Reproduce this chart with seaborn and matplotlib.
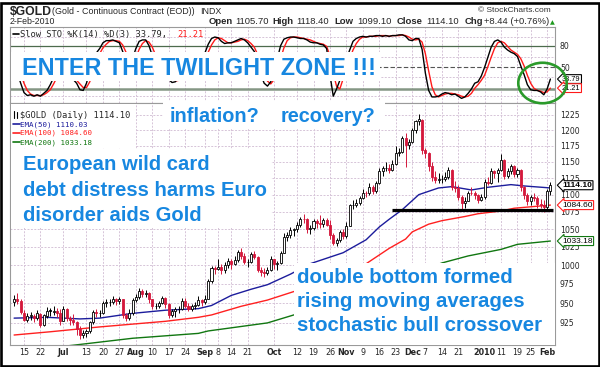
import numpy as np
import matplotlib
matplotlib.use("Agg")
import matplotlib.pyplot as plt
import matplotlib.transforms as mtransforms
from matplotlib.patches import Rectangle, Ellipse
from matplotlib.lines import Line2D
from matplotlib.ticker import NullLocator
import seaborn as sns

# ---------------- data ----------------
opens = [951, 955, 953, 938, 929, 934, 934, 931, 936, 923,
         934, 940, 939, 940, 938, 928, 942, 931, 929, 926,
         918, 910, 912, 915, 926, 939, 937, 937, 950, 951,
         952, 955, 953, 955, 935, 931, 937, 954, 958, 966,
         962, 963, 955, 946, 947, 950, 957, 949, 935, 940,
         942, 942, 953, 946, 943, 947, 948, 954, 952, 956,
         979, 996, 995, 998, 994, 1000, 1006, 1001, 1007, 1018,
         1012, 1004, 1005, 1015, 1011, 994, 991, 990, 994, 1008,
         1001, 1003, 1017, 1039, 1041, 1049, 1050, 1056, 1065, 1064,
         1050, 1051, 1061, 1058, 1057, 1063, 1056, 1041, 1030, 1034,
         1046, 1040, 1055, 1084, 1085, 1088, 1095, 1103, 1102, 1111,
         1105, 1118, 1136, 1140, 1141, 1138, 1146, 1164, 1165, 1188,
         1176, 1181, 1201, 1215, 1216, 1169, 1163, 1143, 1126, 1122,
         1123, 1124, 1127, 1137, 1112, 1110, 1097, 1088, 1091, 1103,
         1102, 1099, 1092, 1096, 1119, 1118, 1135, 1132, 1137, 1152,
         1128, 1136, 1144, 1131, 1137, 1111, 1099, 1090, 1097, 1095,
         1086, 1084, 1082, 1105.7]
highs = [961, 963, 955, 941, 938, 939, 936, 941, 937, 936,
         945, 944, 946, 944, 942, 947, 944, 934, 936, 928,
         921, 916, 918, 928, 941, 942, 941, 953, 956, 956,
         959, 957, 958, 956, 937, 942, 957, 962, 970, 968,
         967, 964, 956, 950, 953, 959, 958, 950, 942, 945,
         946, 957, 957, 950, 949, 951, 959, 956, 960, 981,
         999, 999, 1008, 1001, 1004, 1010, 1008, 1012, 1021, 1024,
         1016, 1009, 1018, 1019, 1013, 997, 996, 997, 1012, 1009,
         1006, 1020, 1045, 1046, 1053, 1052, 1060, 1067, 1071, 1066,
         1056, 1064, 1064, 1070, 1066, 1066, 1063, 1044, 1037, 1049,
         1050, 1060, 1086, 1092, 1094, 1098, 1108, 1106, 1118, 1115,
         1120, 1140, 1143, 1150, 1147, 1152, 1175, 1171, 1190, 1196,
         1186, 1204, 1217, 1227, 1218, 1172, 1166, 1149, 1135, 1133,
         1130, 1134, 1142, 1139, 1120, 1114, 1099, 1096, 1106, 1112,
         1106, 1101, 1101, 1123, 1126, 1140, 1137, 1140, 1162, 1155,
         1140, 1147, 1145, 1140, 1139, 1113, 1103, 1099, 1103, 1098,
         1094, 1092, 1108, 1118.4]
lows = [947, 949, 936, 927, 926, 929, 926, 929, 920, 921,
        931, 934, 935, 933, 922, 927, 928, 922, 923, 910,
        905, 906, 907, 913, 924, 932, 932, 936, 945, 947,
        949, 948, 949, 931, 928, 929, 935, 952, 956, 958,
        958, 950, 943, 942, 944, 949, 944, 931, 933, 932,
        938, 941, 944, 940, 940, 942, 946, 947, 949, 955,
        976, 988, 993, 988, 990, 996, 995, 1000, 1005, 1009,
        1001, 998, 1003, 1008, 991, 985, 984, 987, 992, 995,
        994, 1001, 1016, 1033, 1038, 1040, 1046, 1053, 1058, 1045,
        1043, 1049, 1051, 1052, 1053, 1054, 1036, 1027, 1026, 1032,
        1036, 1038, 1054, 1079, 1082, 1085, 1094, 1096, 1100, 1101,
        1103, 1116, 1128, 1136, 1133, 1136, 1145, 1159, 1163, 1142,
        1170, 1179, 1195, 1208, 1162, 1156, 1135, 1120, 1118, 1117,
        1118, 1120, 1124, 1107, 1104, 1092, 1076, 1081, 1090, 1099,
        1094, 1088, 1090, 1094, 1114, 1116, 1125, 1119, 1136, 1123,
        1125, 1131, 1127, 1127, 1106, 1094, 1084, 1085, 1090, 1080,
        1080, 1074, 1079, 1099.1]
closes = [955, 953, 939, 929, 934, 935, 931, 937, 922, 935,
          940, 940, 940, 938, 927, 943, 931, 929, 926, 918,
          910, 912, 915, 926, 939, 937, 937, 950, 952, 952,
          955, 953, 955, 935, 931, 937, 954, 958, 966, 962,
          963, 955, 946, 947, 950, 957, 949, 935, 940, 942,
          942, 953, 946, 943, 947, 948, 954, 952, 956, 979,
          996, 995, 998, 994, 1000, 1006, 1001, 1007, 1018, 1012,
          1004, 1005, 1015, 1011, 994, 991, 990, 994, 1008, 1001,
          1003, 1017, 1039, 1041, 1049, 1050, 1056, 1065, 1064, 1050,
          1051, 1061, 1058, 1057, 1063, 1056, 1041, 1030, 1034, 1046,
          1040, 1055, 1084, 1085, 1088, 1095, 1103, 1102, 1111, 1105,
          1118, 1136, 1140, 1141, 1138, 1146, 1164, 1165, 1188, 1176,
          1181, 1201, 1215, 1218, 1169, 1163, 1143, 1126, 1122, 1123,
          1124, 1127, 1137, 1112, 1110, 1097, 1088, 1091, 1103, 1102,
          1099, 1092, 1096, 1119, 1118, 1135, 1132, 1137, 1152, 1128,
          1136, 1144, 1131, 1137, 1111, 1099, 1090, 1097, 1095, 1086,
          1084, 1082, 1106, 1114.1]

stoch_k = [55, 42, 28, 15, 11, 12, 10, 12, 10, 14,
           18, 26, 36, 45, 42, 40, 38, 36, 33, 28,
           19, 18, 28, 45, 62, 70, 76, 84, 87, 87,
           88, 86, 84, 72, 58, 50, 62, 76, 86, 88,
           88, 80, 66, 55, 50, 48, 42, 33, 29, 30,
           36, 45, 50, 46, 44, 45, 52, 62, 70, 82,
           90, 92, 91, 86, 83, 84, 84, 86, 88, 90,
           88, 84, 78, 72, 55, 40, 28, 24, 30, 45,
           62, 80, 89, 91, 92, 92, 91, 90, 90, 88,
           85, 84, 84, 82, 81, 76, 40, 10, 20, 32,
           50, 62, 74, 86, 90, 92, 93, 92, 93, 93,
           94, 94, 93, 94, 93, 94, 94, 95, 95, 93,
           88, 87, 90, 90, 75, 42, 18, 9, 9, 10,
           13, 15, 14, 12, 13, 10, 7, 9, 14, 20,
           28, 30, 38, 50, 64, 78, 86, 88, 85, 78,
           74, 71, 69, 65, 52, 40, 26, 19, 18, 18,
           16, 12, 20, 33.79]
stoch_d = [62, 52, 42, 28, 18, 13, 11, 11, 11, 12,
           15, 19, 27, 36, 41, 42, 40, 38, 36, 32,
           27, 22, 22, 30, 45, 59, 69, 77, 82, 86,
           87, 87, 86, 81, 71, 60, 57, 63, 75, 83,
           87, 85, 78, 67, 57, 51, 47, 41, 35, 31,
           32, 37, 44, 47, 47, 45, 47, 53, 61, 71,
           81, 88, 91, 90, 87, 84, 84, 85, 86, 88,
           89, 87, 83, 78, 68, 56, 41, 31, 27, 33,
           46, 62, 77, 87, 91, 92, 92, 91, 90, 89,
           88, 86, 84, 83, 82, 79, 66, 42, 24, 20,
           34, 48, 62, 74, 83, 89, 92, 92, 93, 93,
           93, 94, 94, 94, 93, 94, 94, 94, 95, 94,
           92, 89, 88, 89, 85, 69, 45, 23, 12, 9,
           11, 13, 14, 14, 13, 12, 10, 9, 10, 14,
           21, 26, 32, 39, 51, 64, 76, 84, 86, 84,
           79, 74, 71, 68, 62, 52, 39, 28, 21, 18,
           17, 15, 16, 21.21]

ema50_idx = [0, 10, 20, 26, 36, 46, 56, 60, 66, 72, 77, 84, 90, 100, 107,
             111, 114, 118, 123, 129, 133, 139, 144, 151, 155, 163]
ema50_val = [931, 932, 930, 931, 937, 941, 943, 947, 960, 968, 974, 988, 1002,
             1017, 1035, 1053, 1064, 1078, 1100, 1110, 1112, 1107, 1111, 1115,
             1113, 1110.03]
ema100_idx = [0, 11, 26, 46, 56, 60, 69, 77, 85, 96, 107, 114, 119, 121, 126,
              130, 137, 141, 148, 152, 163]
ema100_val = [910, 914, 920, 927, 932, 935, 946, 954, 965, 980, 1002, 1023, 1036,
              1046, 1057, 1062, 1068, 1072, 1076, 1080, 1084.6]
ema200_idx = [0, 10, 19, 36, 56, 59, 77, 85, 100, 115, 130, 138, 148, 153, 163]
ema200_val = [890, 894, 898, 906, 912, 915, 925, 935, 955, 978, 1003, 1012.6,
              1021.6, 1028.6, 1033.18]

tick_idx = [3, 8, 15, 22, 27, 32, 37, 42, 47, 52, 58, 62, 66, 71, 79, 86, 91,
            96, 101, 106, 111, 116, 121, 125, 130, 135, 143, 148, 153, 157, 162]
tick_labels = ['15', '22', 'Jul', '13', '20', '27', 'Aug', '10', '17', '24',
               'Sep', '8', '14', '21', 'Oct', '12', '19', '26', 'Nov', '9', '16',
               '23', 'Dec', '7', '14', '21', '2010', '11', '19', '25', 'Feb']
month_labels = ['Jul', 'Aug', 'Sep', 'Oct', 'Nov', 'Dec', '2010', 'Feb']
price_ticks = [925, 950, 975, 1000, 1025, 1050, 1075, 1100, 1125, 1150, 1175, 1200, 1225]
stoch_levels = [20, 50, 80]
stoch_grid = [10, 37, 65, 92]

support_level = [1077.5]
support_span = [114.9, 163.8]

tags_price = [(1114.10, '1114.10', 'black', True),
              (1084.60, '1084.60', '#ff2020', False),
              (1033.18, '1033.18', '#117711', False)]
tags_stoch = [(33.79, '33.79', 'black'), (21.21, '21.21', '#ff1a1a')]

# ---------------- figure ----------------
sns.set_style("white")
plt.rcParams['font.family'] = ['DejaVu Sans']

W, H = 600.0, 367.0
fig = plt.figure(figsize=(6.0, 3.67), dpi=100)
fig.patch.set_facecolor('white')


def fx(px):
    return px / W


def fy(py):
    return 1.0 - py / H


L, R = 10, 555
ax_s = fig.add_axes([fx(L), fy(103), (R - L) / W, (103 - 27) / H])
ax_p = fig.add_axes([fx(L), fy(345), (R - L) / W, (345 - 103) / H])

GRID = '#d6c4d8'
SPINE = '#9a9a9a'
RED_C = '#d4183c'
BLUE_T = '#1787e0'
ARIAL = 'Liberation Sans'

for ax in (ax_s, ax_p):
    ax.set_facecolor('white')
    for sp in ax.spines.values():
        sp.set_color(SPINE)
        sp.set_linewidth(0.8)
    ax.set_xlim(-1.25, 164.4)
    ax.set_xticks(tick_idx)
    for t in tick_idx:
        ax.axvline(t, color=GRID, lw=0.7, ls=(0, (2, 1.5)), zorder=0)

# ---- price panel ----
ax_p.set_yscale('log')
ax_p.set_ylim(897.8, 1245)
ax_p.set_yticks(price_ticks)
ax_p.set_yticklabels([str(v) for v in price_ticks])
ax_p.yaxis.set_minor_locator(NullLocator())
ax_p.yaxis.tick_right()
ax_p.tick_params(axis='y', length=0, pad=3.5, labelsize=5.6)
ax_p.set_xticklabels(tick_labels)
ax_p.tick_params(axis='x', length=0, pad=2.2, labelsize=5.8)
for lab in ax_p.get_xticklabels():
    if lab.get_text() in month_labels:
        lab.set_fontweight('bold')
for v in price_ticks:
    ax_p.axhline(v, color=GRID, lw=0.7, ls=(0, (2, 1.5)), zorder=0)

o = np.array(opens, float)
h = np.array(highs, float)
l = np.array(lows, float)
c = np.array(closes, float)
idx = np.arange(len(c))
prev = np.concatenate([[o[0]], c[:-1]])
edge = np.where(c >= prev, 'black', RED_C)
face = np.where(c > o, 'white', edge)

sns.lineplot(x=ema200_idx, y=ema200_val, ax=ax_p, color='#117711', lw=1.0, legend=False)
sns.lineplot(x=ema100_idx, y=ema100_val, ax=ax_p, color='#ff2020', lw=1.0, legend=False)
sns.lineplot(x=ema50_idx, y=ema50_val, ax=ax_p, color='#1c1c9c', lw=1.0, legend=False)

ax_p.vlines(idx, l, h, colors=edge, lw=0.7, zorder=3)
ax_p.bar(idx, np.maximum(np.abs(c - o), 0.8), bottom=np.minimum(o, c), width=0.62,
         color=face, edgecolor=edge, linewidth=0.6, zorder=4)
ax_p.hlines(support_level, support_span[0], support_span[1], color='black', lw=2.3, zorder=6)
ax_p.set_xlabel('')
ax_p.set_ylabel('')

tr_p = mtransforms.blended_transform_factory(ax_p.transAxes, ax_p.transData)
for val, s, ec, bold in tags_price:
    ax_p.text(1.013, val, s, transform=tr_p, ha='left', va='center', fontsize=6,
              family=ARIAL, fontweight='bold' if bold else 'normal', color='black',
              bbox=dict(boxstyle='larrow,pad=0.12', fc='white', ec=ec, lw=0.8),
              clip_on=False, zorder=20)

# ---- stochastic panel ----
ax_s.set_ylim(0.6, 105.9)
ax_s.set_yticks([50, 80])
ax_s.set_yticklabels(['50', '80'])
ax_s.yaxis.tick_right()
ax_s.tick_params(axis='y', length=0, pad=3.5, labelsize=5.6)
ax_s.tick_params(axis='x', length=0, labelbottom=False)
for v in stoch_grid:
    ax_s.axhline(v, color=GRID, lw=0.7, ls=(0, (2, 1.5)), zorder=0)
ax_s.axhline(stoch_levels[2], color='#4d6b4d', lw=0.9, zorder=1)
ax_s.axhline(stoch_levels[0], color='#849684', lw=1.8, zorder=1)
ax_s.axhline(stoch_levels[1], color='#555555', lw=0.8, ls=(0, (4, 2)), zorder=1)
sns.lineplot(x=idx, y=stoch_d, ax=ax_s, color='#ff1a1a', lw=1.0, legend=False)
sns.lineplot(x=idx, y=stoch_k, ax=ax_s, color='black', lw=1.0, legend=False)
ax_s.set_xlabel('')
ax_s.set_ylabel('')

tr_s = mtransforms.blended_transform_factory(ax_s.transAxes, ax_s.transData)
for val, s, ec in tags_stoch:
    ax_s.text(1.013, val, s, transform=tr_s, ha='left', va='center', fontsize=5.3,
              family=ARIAL, color='black',
              bbox=dict(boxstyle='larrow,pad=0.12', fc='white', ec=ec, lw=0.8),
              clip_on=False, zorder=20)

# ---------------- header ----------------
fig.text(fx(10), fy(15), '$GOLD', fontsize=8.8, fontweight='bold', family=ARIAL, va='baseline')
fig.text(fx(52), fy(13.5), '(Gold - Continuous Contract (EOD))', fontsize=6.4, family=ARIAL, va='baseline')
fig.text(fx(200), fy(13.5), 'INDX', fontsize=6.4, family=ARIAL, va='baseline')
fig.text(fx(478), fy(12.5), '\u00a9 StockCharts.com', fontsize=6.0, family=ARIAL, color='#333333', va='baseline')
fig.text(fx(10), fy(24), '2-Feb-2010', fontsize=6.3, family=ARIAL, va='baseline')
hdr = [(208.3, 'Open', True), (235, '1105.70', False), (272.7, 'High', True),
       (296, '1118.40', False), (334.3, 'Low', True), (357.3, '1099.10', False),
       (396.7, 'Close', True), (426, '1114.10', False), (464.3, 'Chg', True),
       (484.3, '+8.44 (+0.76%)', False)]
for xx, s, b in hdr:
    fig.text(fx(xx), fy(24), s, fontsize=6.8, family=ARIAL,
             fontweight='bold' if b else 'normal', va='baseline')
fig.text(fx(550), fy(24), '\u25b2', fontsize=4.5, color='#1e9a1e', va='baseline')

# stochastic legend
fig.add_artist(Line2D([fx(13), fx(18.5)], [fy(33.5), fy(33.5)], color='black', lw=1.2, transform=fig.transFigure))
fig.text(fx(20), fy(36.7), 'Slow STO %K(14) %D(3) 33.79,', fontsize=6.3, family='DejaVu Sans Mono', va='baseline')
fig.text(fx(177.7), fy(36.7), '21.21', fontsize=6.3, family='DejaVu Sans Mono', color='#ff1a1a', va='baseline')

# ---------------- overlays ----------------
def box(x0, y0, x1, y1):
    fig.add_artist(Rectangle((fx(x0), fy(y1)), (x1 - x0) / W, (y1 - y0) / H,
                             transform=fig.transFigure, facecolor='white',
                             edgecolor='none', zorder=5))


def btxt(x, y, s, size):
    fig.text(fx(x), fy(y), s, fontsize=size, fontweight='bold', color=BLUE_T,
             family=ARIAL, ha='left', va='baseline', zorder=6)


box(10.5, 51.5, 380, 80.5)
btxt(21.7, 75, 'ENTER THE TWILIGHT ZONE !!!', 16.8)

box(163, 101, 385, 129)
btxt(170, 121.7, 'inflation?', 14.3)
btxt(281, 121.7, 'recovery?', 14.3)

# price legend
box(10.5, 104, 136, 147.5)
fig.add_artist(Line2D([fx(14), fx(14)], [fy(110.5), fy(118.5)], color='black', lw=0.8, transform=fig.transFigure, zorder=6))
fig.add_artist(Line2D([fx(17), fx(17)], [fy(111.5), fy(117.5)], color='black', lw=0.8, transform=fig.transFigure, zorder=6))
fig.text(fx(19.5), fy(118.3), '$GOLD (Daily) 1114.10', fontsize=6.3, family='DejaVu Sans Mono', va='baseline', zorder=6)
leg = [(126, 'EMA(50) 1110.03', '#1c1c9c'), (135, 'EMA(100) 1084.60', '#ff2020'),
       (144.3, 'EMA(200) 1033.18', '#117711')]
for yy, s, col in leg:
    fig.add_artist(Line2D([fx(13), fx(19.5)], [fy(yy - 2.5), fy(yy - 2.5)], color=col, lw=1.2, transform=fig.transFigure, zorder=6))
    fig.text(fx(19.7), fy(yy), s, fontsize=5.4, family='DejaVu Sans Mono', color=col, va='baseline', zorder=6)

box(10.5, 149, 271, 228)
btxt(22.7, 170, 'European wild card', 14.6)
btxt(22.7, 195.7, 'debt distress harms Euro', 14.6)
btxt(22.7, 221, 'disorder aids Gold', 14.6)

box(294, 263, 554.5, 344.5)
btxt(297, 282.7, 'double bottom formed', 14.7)
btxt(297, 306.7, 'rising moving averages', 14.7)
btxt(297, 330.7, 'stochastic bull crossover', 14.7)

# green circle
fig.add_artist(Ellipse((fx(542.5), fy(83)), 48.4 / W, 40.5 / H, transform=fig.transFigure,
                       fill=False, edgecolor='#2a9a2a', lw=1.9, zorder=7))

# outer frame
fig.add_artist(Rectangle((1.2 / W, 1.2 / H), (W - 2.4) / W, (H - 4.0) / H, transform=fig.transFigure,
                         fill=False, edgecolor='black', lw=1.9, zorder=10))

fig.savefig('out.png', dpi=100, facecolor='white')
